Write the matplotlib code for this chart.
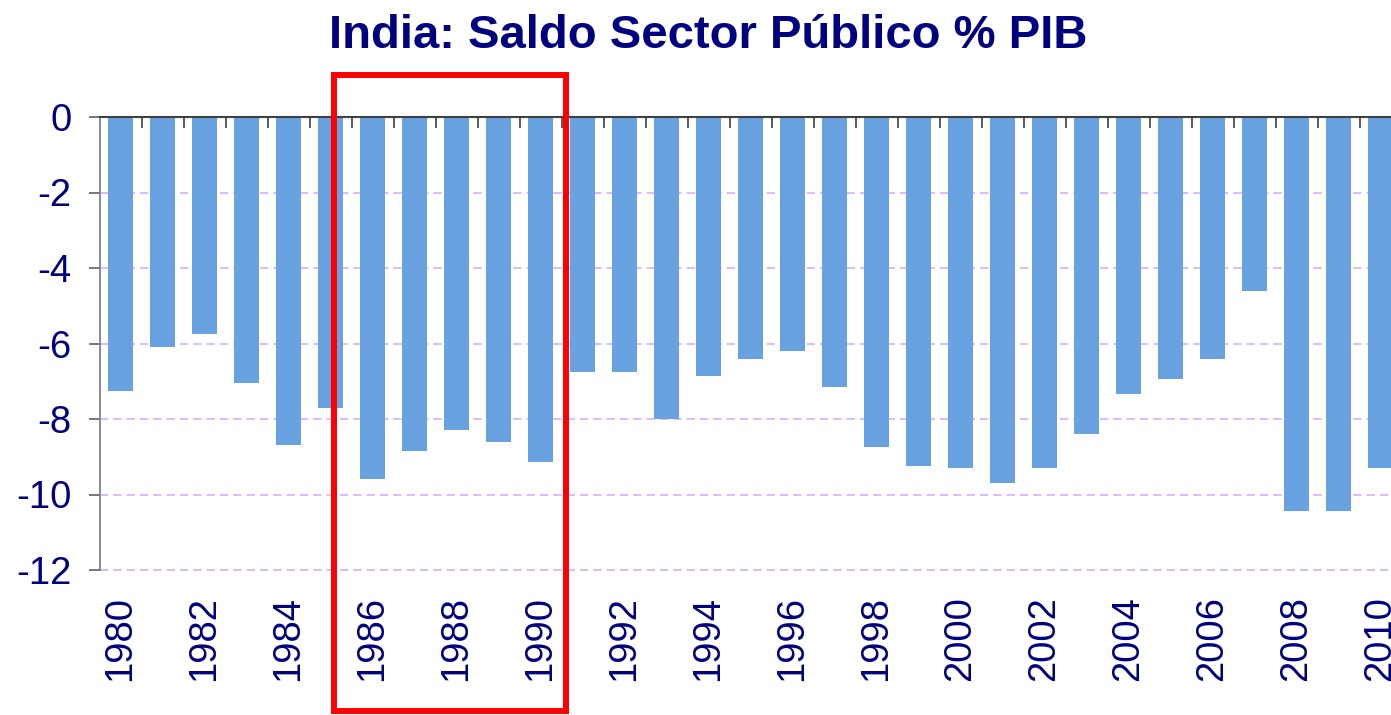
import numpy as np
import matplotlib
matplotlib.use("Agg")
import matplotlib.pyplot as plt
from matplotlib.patches import Rectangle
from matplotlib.ticker import MultipleLocator, FixedLocator

plt.rcParams['font.family'] = ['Liberation Sans', 'DejaVu Sans']

# datos
years = list(range(1980, 2011))
saldo = [-7.25, -6.1, -5.75, -7.05, -8.7, -7.7, -9.6, -8.85, -8.3, -8.6, -9.15,
         -6.75, -6.75, -8.0, -6.85, -6.4, -6.2, -7.15, -8.75, -9.25, -9.3,
         -9.7, -9.3, -8.4, -7.35, -6.95, -6.4, -4.6, -10.45, -10.45, -9.3]
tick_years = years[::2]
highlight = (1986, 1990)

navy = '#000080'
bar_color = '#68A2E0'

fig = plt.figure(figsize=(13.91, 7.15), dpi=100)
ax = fig.add_axes([99.5 / 1391, 1 - 570 / 715, 1 - 99.5 / 1391, (570 - 117) / 715])

x = np.arange(len(years))
ax.bar(x, saldo, width=0.58, color=bar_color, zorder=2)

ax.set_ylim(-12, 0)
ax.set_xlim(-0.5, -0.5 + (1391 - 99.5) / 42.0)
ax.yaxis.set_major_locator(MultipleLocator(2))
ax.set_yticklabels([str(int(v)) for v in ax.get_yticks()])
ax.grid(axis='y', color='#D4B0FF', linestyle=(0, (5, 3)), linewidth=1.2, zorder=0)
for gl in ax.get_ygridlines():
    gl.set_clip_on(False)

# etiquetas de años cada dos
ax.set_xticks([years.index(y) for y in tick_years])
ax.set_xticklabels([str(y) for y in tick_years], rotation=90, va='top')
ax.tick_params(axis='x', which='major', length=0, pad=19, labelsize=27.5, labelcolor=navy)
# marcas entre categorias sobre el eje 0
ax.xaxis.set_minor_locator(FixedLocator(np.arange(len(years)) + 0.5))
ax.tick_params(axis='x', which='minor', bottom=False, top=True, direction='in',
               length=8, width=1.2, color='#404040')
ax.tick_params(axis='y', length=8, width=1.2, color='#606060', pad=12,
               labelsize=27.5, labelcolor=navy)

for s in ['right', 'bottom']:
    ax.spines[s].set_visible(False)
ax.spines['top'].set_color('#404040')
ax.spines['top'].set_linewidth(1.5)
ax.spines['left'].set_color('#808080')
ax.spines['left'].set_linewidth(1.3)

fig.suptitle('India: Saldo Sector Público % PIB', x=0.509, y=0.981, va='top',
             fontsize=34, fontweight='bold', color=navy)

# recuadro rojo resaltando 1986-1990
x0 = years.index(highlight[0]) - 0.92
x1 = years.index(highlight[1]) + 0.61
ax.add_patch(Rectangle((x0, -15.73), x1 - x0, 15.73 + 1.12, fill=False,
                       edgecolor='#FF0000', linewidth=4.3, clip_on=False, zorder=5))

fig.savefig('out.png', dpi=100)
